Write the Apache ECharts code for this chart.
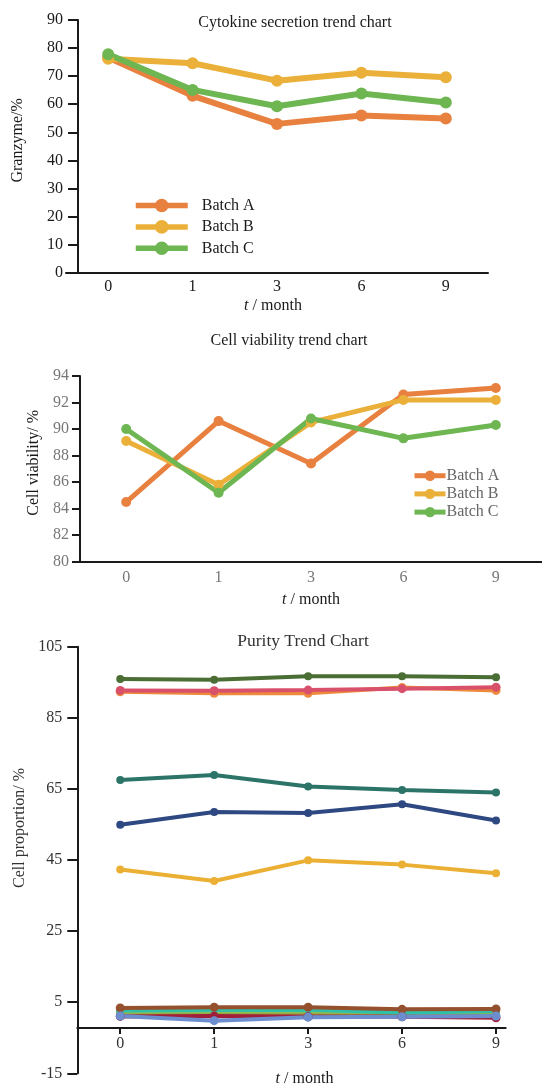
<!DOCTYPE html>
<html>
<head>
<meta charset="utf-8">
<script src="https://cdn.jsdelivr.net/npm/echarts@6/dist/echarts.min.js"></script>
<style>html,body{margin:0;padding:0;background:#fff}#c{width:542px;height:1088px}</style>
</head>
<body>
<div id="c"></div>
<script>
var months = ['0', '1', '3', '6', '9'];
var batchNames = ['Batch A', 'Batch B', 'Batch C'];

// Chart 1: Granzyme (%)
var granA = [76.6, 63.0, 53.0, 56.0, 54.9];
var granB = [76.2, 74.6, 68.4, 71.2, 69.6];
var granC = [77.8, 65.1, 59.3, 63.8, 60.6];

// Chart 2: Cell viability (%)
var viaA = [84.5, 90.6, 87.4, 92.6, 93.1];
var viaB = [89.1, 85.8, 90.5, 92.2, 92.2];
var viaC = [90.0, 85.2, 90.8, 89.3, 90.3];

// Chart 3: Cell proportion (%)
var purDarkGreen = [95.9, 95.7, 96.7, 96.7, 96.4];
var purOrange = [92.3, 91.9, 91.9, 93.5, 92.7];
var purPink = [92.7, 92.6, 92.8, 93.2, 93.6];
var purTeal = [67.5, 68.9, 65.7, 64.7, 64.0];
var purNavy = [54.9, 58.5, 58.2, 60.7, 56.1];
var purYellow = [42.3, 39.1, 44.9, 43.7, 41.3];
var purOlive = [1.8, 1.6, 1.7, 1.5, 1.7];
var purLightGreen = [2.3, 2.4, 2.4, 2.2, 2.3];
var purCyan = [2.7, 2.8, 2.9, 2.0, 2.5];
var purDarkRed = [1.0, 1.1, 0.9, 0.9, 0.6];
var purBrown = [3.4, 3.6, 3.6, 3.0, 3.1];
var purBlue = [1.1, -0.2, 0.8, 0.9, 1.1];

var yTicks1 = [0, 90, 10];
var yTicks2 = [80, 94, 2];
var yTicks3 = [-15, 105, 20];

var FONT = '"Liberation Serif", "Times New Roman", serif';
var cA = '#E8803F', cB = '#EAB03A', cC = '#6DB652';

function idx(arr) { return arr.map(function (v, i) { return [i, v]; }); }

var chart = echarts.init(document.getElementById('c'), null, {renderer: 'canvas'});

var axisLineBlack = {show: true, onZero: false, lineStyle: {color: '#1a1a1a', width: 2}};

var option = {
  backgroundColor: '#fff',
  animation: false,
  title: [
    {text: 'Cytokine secretion trend chart', left: 290, top: 10, textAlign: 'center',
     textStyle: {fontFamily: FONT, fontSize: 16, fontWeight: 'normal', color: '#1a1a1a'}},
    {text: 'Cell viability trend chart', left: 284, top: 328, textAlign: 'center',
     textStyle: {fontFamily: FONT, fontSize: 16, fontWeight: 'normal', color: '#1a1a1a'}},
    {text: 'Purity Trend Chart', left: 298, top: 627, textAlign: 'center',
     textStyle: {fontFamily: FONT, fontSize: 17.5, fontWeight: 'normal', color: '#333'}}
  ],
  legend: [
    {orient: 'vertical', left: 133, top: 197.5, padding: 0, itemWidth: 52, itemHeight: 17, itemGap: 5.4,
     data: ['g1', 'g2', 'g3'],
     lineStyle: {width: 5.5},
     formatter: function (n) { return batchNames[+n.slice(1) - 1]; },
     textStyle: {fontFamily: FONT, fontSize: 16, color: '#1a1a1a', padding: [0, 0, 0, 9]}},
    {orient: 'vertical', left: 412, top: 467.7, padding: 0, itemWidth: 31, itemHeight: 13, itemGap: 2.2,
     data: ['v1', 'v2', 'v3'],
     lineStyle: {width: 5},
     formatter: function (n) { return batchNames[+n.slice(1) - 1]; },
     textStyle: {fontFamily: FONT, fontSize: 16, color: '#666', padding: [0, 0, 0, -4]}}
  ],
  grid: [
    {left: 66, width: 422, top: 20, height: 252.7},
    {left: 80, width: 464, top: 376, height: 185.7},
    {left: 77.3, width: 428.4, top: 646.7, height: 428.3}
  ],
  xAxis: [
    {gridIndex: 0, type: 'category', data: months, boundaryGap: true,
     axisLine: axisLineBlack, axisTick: {alignWithLabel: true, length: 6, lineStyle: {color: '#1a1a1a', width: 2}},
     axisLabel: {fontFamily: FONT, fontSize: 16, color: '#1a1a1a', margin: 6},
     name: '{i|t} / month', nameLocation: 'middle', nameGap: 25,
     nameTextStyle: {fontFamily: FONT, fontSize: 16, color: '#1a1a1a', padding: [0, 8, 0, 0],
       rich: {i: {fontFamily: FONT, fontSize: 16, fontStyle: 'italic', color: '#1a1a1a'}}}},
    {gridIndex: 1, type: 'category', data: months, boundaryGap: true,
     axisLine: axisLineBlack, axisTick: {alignWithLabel: true, length: 6, lineStyle: {color: '#1a1a1a', width: 2}},
     axisLabel: {fontFamily: FONT, fontSize: 16, color: '#777', margin: 8},
     name: '{i|t} / month', nameLocation: 'middle', nameGap: 30,
     nameTextStyle: {fontFamily: FONT, fontSize: 16, color: '#1a1a1a',
       rich: {i: {fontFamily: FONT, fontSize: 16, fontStyle: 'italic', color: '#1a1a1a'}}}},
    {gridIndex: 2, type: 'value', min: -0.457, max: 4.103, offset: -45.3,
     splitLine: {show: false},
     axisLine: axisLineBlack,
     axisTick: {show: true, length: 6, customValues: [0, 1, 2, 3, 4], lineStyle: {color: '#1a1a1a', width: 2}},
     axisLabel: {fontFamily: FONT, fontSize: 16, color: '#333', margin: 8, customValues: [0, 1, 2, 3, 4],
       formatter: function (v) { return months[Math.round(v)]; }},
     name: '{i|t} / month', nameLocation: 'middle', nameGap: 43,
     nameTextStyle: {fontFamily: FONT, fontSize: 16, color: '#1a1a1a', padding: [0, 0, 0, 26],
       rich: {i: {fontFamily: FONT, fontSize: 16, fontStyle: 'italic', color: '#1a1a1a'}}}}
  ],
  yAxis: [
    {gridIndex: 0, type: 'value', min: yTicks1[0], max: yTicks1[1], interval: yTicks1[2], offset: -12,
     splitLine: {show: false}, axisLine: axisLineBlack,
     axisTick: {show: true, length: 10, lineStyle: {color: '#1a1a1a', width: 2}},
     axisLabel: {fontFamily: FONT, fontSize: 16, color: '#1a1a1a', margin: 15},
     name: 'Granzyme/%', nameLocation: 'middle', nameGap: 52, nameRotate: 90,
     nameTextStyle: {fontFamily: FONT, fontSize: 16, color: '#1a1a1a', padding: [0, 0, 0, 12]}},
    {gridIndex: 1, type: 'value', min: yTicks2[0], max: yTicks2[1], interval: yTicks2[2],
     splitLine: {show: false}, axisLine: axisLineBlack,
     axisTick: {show: true, length: 8, lineStyle: {color: '#1a1a1a', width: 2}},
     axisLabel: {fontFamily: FONT, fontSize: 16, color: '#777', margin: 11},
     name: 'Cell viability/ %', nameLocation: 'middle', nameGap: 37, nameRotate: 90,
     nameTextStyle: {fontFamily: FONT, fontSize: 16, color: '#1a1a1a', padding: [0, 0, 0, 12]}},
    {gridIndex: 2, type: 'value', min: yTicks3[0], max: yTicks3[1], interval: yTicks3[2],
     splitLine: {show: false}, axisLine: axisLineBlack,
     axisTick: {show: true, length: 10, lineStyle: {color: '#1a1a1a', width: 2}},
     axisLabel: {fontFamily: FONT, fontSize: 16, color: '#333', margin: 15},
     name: 'Cell proportion/ %', nameLocation: 'middle', nameGap: 44, nameRotate: 90,
     nameTextStyle: {fontFamily: FONT, fontSize: 16, color: '#333', padding: [0, 0, 0, 64]}}
  ],
  series: []
};

function s1(name, data, color) {
  return {name: name, type: 'line', xAxisIndex: 0, yAxisIndex: 0, data: data,
    symbol: 'circle', symbolSize: 12, itemStyle: {color: color}, lineStyle: {color: color, width: 6}};
}
function s2(name, data, color) {
  return {name: name, type: 'line', xAxisIndex: 1, yAxisIndex: 1, data: data,
    symbol: 'circle', symbolSize: 10, itemStyle: {color: color}, lineStyle: {color: color, width: 5}};
}
function s3(name, data, color, w, sz) {
  return {name: name, type: 'line', xAxisIndex: 2, yAxisIndex: 2, data: idx(data),
    symbol: 'circle', symbolSize: sz, itemStyle: {color: color}, lineStyle: {color: color, width: w}};
}

option.series.push(s1('g1', granA, cA), s1('g2', granB, cB), s1('g3', granC, cC));
option.series.push(s2('v1', viaA, cA), s2('v2', viaB, cB), s2('v3', viaC, cC));
option.series.push(
  s3('p1', purDarkGreen, '#4B6E35', 4, 8),
  s3('p2', purOrange, '#EE8A3B', 4, 9),
  s3('p3', purPink, '#D9506A', 4, 9),
  s3('p4', purTeal, '#2D7468', 4, 8),
  s3('p5', purNavy, '#2E4882', 4, 8),
  s3('p6', purYellow, '#EBB033', 4, 8),
  s3('p7', purOlive, '#9E8B3E', 4, 8),
  s3('p8', purLightGreen, '#8CC152', 4, 8),
  s3('p9', purCyan, '#30C0A8', 4, 8),
  s3('p10', purDarkRed, '#A11F3A', 4, 9),
  s3('p11', purBrown, '#95502E', 4, 9),
  s3('p12', purBlue, '#6C8ECF', 4, 9)
);

chart.setOption(option);
</script>
</body>
</html>
